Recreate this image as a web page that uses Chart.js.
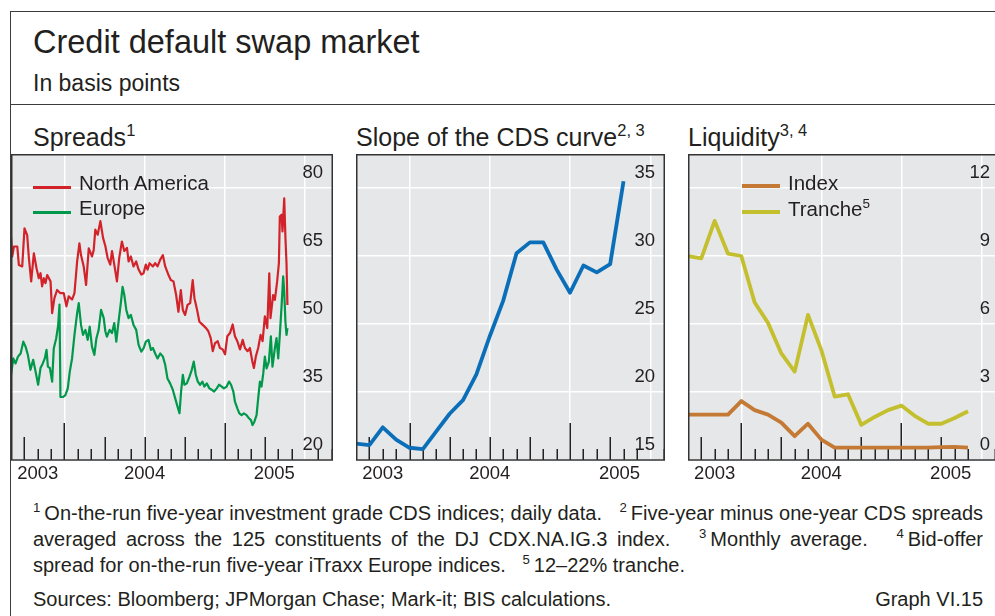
<!DOCTYPE html>
<html>
<head>
<meta charset="utf-8">
<script src="https://cdn.jsdelivr.net/npm/chart.js@4.4.1/dist/chart.umd.min.js"></script>
<style>
  html, body { margin: 0; padding: 0; background: #fff; }
  body { width: 995px; height: 616px; overflow: hidden; position: relative;
         font-family: "Liberation Sans", Arial, sans-serif; color: #231f20; }
  .abs { position: absolute; white-space: nowrap; line-height: 1; }
  #frame { position: absolute; left: 10px; top: 11px; width: 1000px; height: 700px;
           border-top: 1.5px solid #3c3c3c; border-left: 1.5px solid #3c3c3c; }
  #rule { position: absolute; left: 10px; top: 104px; width: 1000px; border-top: 1.5px solid #3c3c3c; }
  .panel { position: absolute; top: 154px; }
  sup { font-size: 66%; vertical-align: 0.6em; line-height: 0; }
  .sw { position: absolute; height: 3px; width: 38px; }
  .leg { font-size: 20.5px; }
  #notes { position: absolute; left: 33px; top: 500px; width: 950px; font-size: 20px; line-height: 26px; }
  #notes .j { text-align: justify; text-align-last: justify; white-space: nowrap; }
  #src { position: absolute; left: 33px; top: 586px; width: 950px; font-size: 20px; line-height: 26px; }
</style>
</head>
<body>
<div id="frame"></div>
<div id="rule"></div>

<div class="abs" style="left:33px;top:26px;font-size:32.5px;">Credit default swap market</div>
<div class="abs" style="left:33px;top:72px;font-size:23px;">In basis points</div>

<div class="abs" style="left:33px;top:125px;font-size:25px;">Spreads<sup>1</sup></div>
<div class="abs" style="left:356px;top:125px;font-size:25px;">Slope of the CDS curve<sup>2, 3</sup></div>
<div class="abs" style="left:688px;top:125px;font-size:25px;">Liquidity<sup>3, 4</sup></div>

<canvas id="c1" class="panel" style="left:11px" width="322" height="330"></canvas>
<canvas id="c2" class="panel" style="left:356px" width="309" height="330"></canvas>
<canvas id="c3" class="panel" style="left:688px" width="312" height="330"></canvas>

<div class="sw" style="left:33px;top:186px;background:#d2232a"></div>
<div class="abs leg" style="left:79px;top:173px;">North America</div>
<div class="sw" style="left:33px;top:211px;background:#00984a"></div>
<div class="abs leg" style="left:79px;top:198px;">Europe</div>

<div class="sw" style="left:742px;top:184px;height:4px;background:#c47a34"></div>
<div class="abs leg" style="left:788px;top:173px;">Index</div>
<div class="sw" style="left:742px;top:210px;height:4px;background:#c4bf2e"></div>
<div class="abs leg" style="left:788px;top:199px;">Tranche<sup>5</sup></div>

<div id="notes">
  <div class="j"><sup>1</sup>&thinsp;On-the-run five-year investment grade CDS indices; daily data. &nbsp; <sup>2</sup>&thinsp;Five-year minus one-year CDS spreads</div>
  <div class="j">averaged across the 125 constituents of the DJ CDX.NA.IG.3 index. &nbsp; <sup>3</sup>&thinsp;Monthly average. &nbsp; <sup>4</sup>&thinsp;Bid-offer</div>
  <div>spread for on-the-run five-year iTraxx Europe indices. &nbsp; <sup>5</sup>&thinsp;12–22% tranche.</div>
</div>
<div id="src">Sources: Bloomberg; JPMorgan Chase; Mark-it; BIS calculations.<span style="float:right">Graph VI.15</span></div>

<script>
// x values are months counted from January 2004 (0 = Jan 2004, 12 = Jan 2005)

// Spreads, daily data
const naMonth = [-4.03, -3.91, -3.78, -3.53, -3.41, -3.16, -2.99, -2.79, -2.66, -2.49, -2.29, -2.09, -1.92, -1.79, -1.67,
  -1.54, -1.42, -1.29, -1.04, -0.92, -0.75, -0.55, -0.30, -0.05, 0.15, 0.32, 0.57, 0.75, 0.95, 1.12, 1.24, 1.44, 1.62,
  1.82, 2.06, 2.19, 2.31, 2.49, 2.69, 2.89, 3.06, 3.23, 3.43, 3.56, 3.73, 3.93, 4.10, 4.30, 4.48, 4.68, 4.80, 4.97,
  5.17, 5.37, 5.55, 5.75, 5.92, 6.09, 6.22, 6.37, 6.62, 6.79, 6.97, 7.17, 7.37, 7.54, 7.79, 7.96, 8.16, 8.36, 8.53,
  8.71, 8.86, 9.03, 9.21, 9.41, 9.60, 9.73, 9.90, 10.10, 10.35, 10.60, 10.77, 10.95, 11.10, 11.27, 11.47, 11.64,
  11.84, 12.02, 12.19, 12.39, 12.59, 12.76, 12.94, 13.14, 13.34, 13.51, 13.71, 13.88, 14.06, 14.18, 14.33, 14.50,
  14.68, 14.83, 15.00, 15.18, 15.33, 15.42, 15.62, 15.75, 15.92, 16.05, 16.12, 16.25, 16.32, 16.45, 16.54, 16.62, 16.69];
const naSpread = [70.8, 64.9, 67.1, 67.1, 63.0, 62.7, 71.1, 69.6, 64.5, 59.4, 65.6, 62.3, 60.1, 61.2, 58.3,
  60.1, 59.0, 60.8, 59.4, 52.4, 55.7, 57.5, 56.8, 56.8, 53.9, 56.1, 55.4, 56.8, 63.8, 67.8, 65.2, 62.7, 58.6,
  66.7, 64.9, 66.3, 70.8, 69.7, 72.7, 69.0, 67.2, 64.6, 63.1, 66.1, 63.1, 59.4, 64.6, 68.2, 66.1, 66.8, 63.8, 64.9,
  62.7, 63.8, 62.0, 60.9, 61.2, 63.1, 62.0, 63.4, 62.7, 63.4, 62.7, 64.2, 65.2, 62.7, 60.8, 59.7, 59.4, 56.4, 52.7,
  57.5, 53.1, 52.0, 54.2, 54.6, 59.7, 55.7, 53.5, 50.5, 49.8, 49.1, 48.4, 46.9, 44.0, 45.8, 46.2, 44.7,
  44.4, 43.3, 47.3, 48.0, 49.9, 47.3, 46.2, 44.4, 46.5, 44.7, 44.0, 44.7, 41.8, 40.3, 42.9, 44.7,
  47.6, 46.2, 51.7, 49.1, 61.2, 51.3, 56.4, 55.3, 59.4, 63.4, 73.7, 74.1, 70.4, 77.7, 69.0, 63.4, 54.2];

const euMonth = [-4.03, -3.83, -3.66, -3.48, -3.28, -3.08, -2.91, -2.74, -2.54, -2.34, -2.16, -1.97, -1.79, -1.62, -1.47,
  -1.34, -1.24, -1.09, -0.92, -0.80, -0.62, -0.47, -0.37, -0.30, -0.10, 0.07, 0.25, 0.40, 0.57, 0.75, 0.95, 1.07, 1.24,
  1.39, 1.57, 1.74, 1.89, 2.06, 2.24, 2.39, 2.56, 2.74, 2.94, 3.06, 3.18, 3.38, 3.56, 3.73, 3.88, 4.05, 4.23, 4.35,
  4.48, 4.63, 4.80, 4.97, 5.17, 5.37, 5.55, 5.75, 5.92, 6.09, 6.29, 6.47, 6.62, 6.79, 6.97, 7.17, 7.37, 7.54, 7.71,
  7.91, 8.11, 8.29, 8.46, 8.61, 8.73, 8.86, 8.98, 9.16, 9.36, 9.53, 9.68, 9.83, 9.98, 10.15, 10.33, 10.47, 10.65,
  10.85, 11.02, 11.20, 11.40, 11.57, 11.77, 11.94, 12.14, 12.32, 12.47, 12.64, 12.76, 12.94, 13.09, 13.26, 13.43,
  13.63, 13.81, 13.96, 14.08, 14.21, 14.38, 14.50, 14.63, 14.75, 14.88, 15.00, 15.13, 15.30, 15.45, 15.57, 15.75,
  15.87, 16.00, 16.12, 16.25, 16.37, 16.45, 16.54, 16.62, 16.69];
const euSpread = [38.0, 42.4, 41.3, 42.8, 43.5, 46.1, 45.0, 43.2, 39.9, 42.1, 39.5, 36.6, 40.3, 41.3, 42.4,
  44.3, 40.6, 40.3, 37.3, 44.6, 46.8, 49.7, 54.3, 33.9, 33.9, 34.3, 35.8, 39.5, 42.4, 47.6, 52.4, 54.6, 49.8,
  47.6, 48.7, 46.5, 49.4, 45.0, 43.2, 46.8, 48.7, 53.1, 51.3, 48.4, 47.2, 48.7, 48.0, 50.2, 46.1, 50.5, 54.9, 58.2,
  56.4, 53.1, 51.3, 52.0, 49.8, 48.7, 45.4, 43.9, 44.6, 46.1, 46.5, 44.3, 44.7, 43.5, 42.4, 43.5, 42.8, 41.0, 38.0,
  36.9, 35.5, 33.6, 31.8, 30.3, 35.1, 38.8, 36.6, 36.9, 38.4, 39.9, 41.7, 38.8, 37.3, 36.6, 37.3, 36.2, 36.9,
  35.8, 35.5, 35.1, 35.8, 36.6, 36.2, 35.8, 36.2, 37.3, 36.6, 35.1, 32.9, 31.4, 30.3, 29.9, 30.3,
  29.9, 29.2, 28.8, 27.7, 28.4, 29.9, 33.6, 37.3, 36.2, 39.1, 42.8, 40.2, 41.7, 47.3, 40.6, 44.7,
  46.9, 42.4, 47.6, 53.9, 60.5, 57.2, 50.5, 47.6, 49.1];

// Slope of the CDS curve, monthly averages
const slopeMonth = [-4, -3, -2, -1, 0, 1, 2, 3, 4, 5, 6, 7, 8, 9, 10, 11, 12, 13, 14, 15, 16];
const slopeValue = [16.2, 16.1, 17.4, 16.5, 15.9, 15.8, 17.1, 18.4, 19.4, 21.3, 24.1, 26.7, 30.2, 31.0, 31.0,
  29.0, 27.3, 29.3, 28.8, 29.4, 35.5];

// Liquidity, monthly averages
const liqMonth = [-4, -3, -2, -1, 0, 1, 2, 3, 4, 5, 6, 7, 8, 9, 10, 11, 12, 13, 14, 15, 16, 17];
const indexValue = [2.0, 2.0, 2.0, 2.0, 2.6, 2.2, 2.0, 1.65, 1.05, 1.6, 0.9, 0.55, 0.55, 0.55, 0.55, 0.55,
  0.55, 0.55, 0.55, 0.57, 0.58, 0.55];
const trancheValue = [9.0, 8.9, 10.55, 9.1, 9.0, 6.95, 6.05, 4.7, 3.9, 6.4, 4.85, 2.8, 2.9, 1.55, 1.9, 2.2,
  2.4, 1.95, 1.6, 1.6, 1.85, 2.15];

// axis labels
const yearLabels = ['2003', '2004', '2005'];
const yearLabelAt = [-2, 6, 15.7];
const gridMonths = [0, 6, 12, 18];
const spreadTicks = [20, 35, 50, 65, 80];
const slopeTicks = [15, 20, 25, 30, 35];
const liqTicks = [0, 3, 6, 9, 12];

const INK = '#231f20';
const FONT = 'Liberation Sans, Arial, sans-serif';

const pts = (xs, ys) => xs.map((x, i) => ({ x, y: ys[i] }));

// grey panel, month tick marks and frame
const boxPlugin = {
  id: 'box',
  beforeDraw(chart) {
    const { ctx, chartArea: a } = chart;
    ctx.save();
    ctx.fillStyle = '#e6e7e8';
    ctx.fillRect(a.left, a.top, a.right - a.left, a.bottom - a.top);
    ctx.restore();
  },
  beforeDatasetsDraw(chart) {
    const { ctx, chartArea: a, scales: { x } } = chart;
    ctx.save();
    ctx.strokeStyle = '#222';
    ctx.lineWidth = 1.5;
    for (let m = Math.ceil(x.min); m < x.max; m++) {
      if (m <= x.min || m === 18) continue;
      const len = m % 12 === 0 ? 37 : (m % 3 === 0 ? 23 : 11);
      const px = Math.round(x.getPixelForValue(m)) + 0.25;
      ctx.beginPath();
      ctx.moveTo(px, a.bottom);
      ctx.lineTo(px, a.bottom - len);
      ctx.stroke();
    }
    ctx.restore();
  },
  afterDraw(chart) {
    const { ctx, chartArea: a } = chart;
    ctx.save();
    ctx.strokeStyle = '#333';
    ctx.lineWidth = 1.5;
    ctx.strokeRect(a.left + 0.75, a.top + 0.75, a.right - a.left - 1.5, a.bottom - a.top - 0.75);
    ctx.restore();
  }
};

function drawPanel(id, xMax, yMin, yMax, yTicks, datasets) {
  return new Chart(document.getElementById(id), {
    type: 'line',
    data: { datasets },
    options: {
      responsive: false,
      animation: false,
      devicePixelRatio: 1,
      layout: { padding: 0 },
      plugins: { legend: { display: false }, tooltip: { enabled: false } },
      elements: { point: { radius: 0 }, line: { tension: 0, borderJoinStyle: 'round' } },
      scales: {
        x: {
          type: 'linear', position: 'bottom', min: -4, max: xMax,
          afterBuildTicks: s => { s.ticks = gridMonths.map(v => ({ value: v })); },
          ticks: { display: false },
          grid: { color: '#ffffff', lineWidth: 1.5, drawTicks: false },
          border: { display: false },
          afterFit: s => { s.height = 0; s.paddingLeft = 0; s.paddingRight = 0; }
        },
        years: {
          type: 'linear', position: 'bottom', min: -4, max: xMax,
          afterBuildTicks: s => { s.ticks = yearLabelAt.map(v => ({ value: v })); },
          ticks: {
            callback: (v, i) => yearLabels[i],
            autoSkip: false, maxRotation: 0, padding: 3,
            color: INK, font: { family: FONT, size: 18.5 }
          },
          grid: { display: false, drawTicks: false },
          border: { display: false },
          afterFit: s => { s.height = 24; s.paddingLeft = 0; s.paddingRight = 0; }
        },
        y: {
          type: 'linear', position: 'right', min: yMin, max: yMax,
          afterBuildTicks: s => { s.ticks = yTicks.map(v => ({ value: v })); },
          ticks: {
            mirror: true, padding: -10, labelOffset: -15,
            color: INK, font: { family: FONT, size: 18.5 }
          },
          grid: { color: '#ffffff', lineWidth: 1.5, drawTicks: false },
          border: { display: false },
          afterFit: s => { s.width = 0; s.paddingTop = 0; s.paddingBottom = 0; }
        }
      }
    },
    plugins: [boxPlugin]
  });
}

drawPanel('c1', 20.1, 20, 87.5, spreadTicks, [
  { label: 'North America', data: pts(naMonth, naSpread), borderColor: '#d2232a', borderWidth: 2.2 },
  { label: 'Europe', data: pts(euMonth, euSpread), borderColor: '#00984a', borderWidth: 2.2 }
]);

drawPanel('c2', 19.1, 15, 37.5, slopeTicks, [
  { label: 'Slope', data: pts(slopeMonth, slopeValue), borderColor: '#0a6fb8', borderWidth: 3.8 }
]);

drawPanel('c3', 19.4, 0, 13.5, liqTicks, [
  { label: 'Index', data: pts(liqMonth, indexValue), borderColor: '#c47a34', borderWidth: 3.8 },
  { label: 'Tranche', data: pts(liqMonth, trancheValue), borderColor: '#c4bf2e', borderWidth: 3.8 }
]);
</script>
</body>
</html>
